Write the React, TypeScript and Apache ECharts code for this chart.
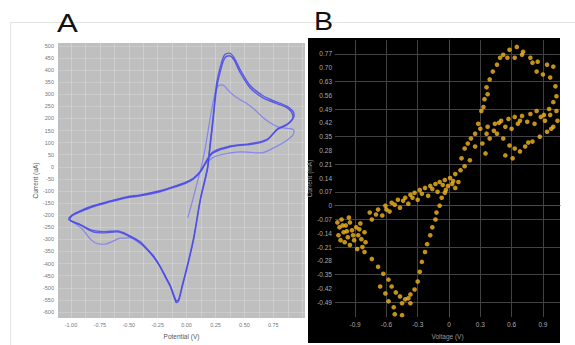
import React, { useEffect, useRef } from 'react';
import * as echarts from 'echarts';

// ---------- Panel A: cyclic voltammogram ----------
const potentialLabels = [-1, -0.75, -0.5, -0.25, 0, 0.25, 0.5, 0.75];
const potentialGridLines = [-1, -0.875, -0.75, -0.625, -0.5, -0.375, -0.25, -0.125, 0, 0.125, 0.25, 0.375, 0.5, 0.625, 0.75, 0.875, 1];
const currentLabelsA = [-600, -550, -500, -450, -400, -350, -300, -250, -200, -150, -100, -50, 0, 50, 100, 150, 200, 250, 300, 350, 400, 450, 500];

// first (lighter) scan, starting near 0 V
const cvFirstScan: [number, number][] = [
  [0.01, -211], [0.04, -160], [0.07, -105], [0.10, -50], [0.13, 5], [0.16, 75], [0.19, 160], [0.22, 245],
  [0.25, 310], [0.28, 337], [0.31, 339], [0.35, 322], [0.40, 298], [0.46, 278], [0.52, 262], [0.59, 236],
  [0.66, 204], [0.73, 180], [0.79, 165], [0.85, 160], [0.90, 158], [0.93, 150], [0.92, 132], [0.88, 114],
  [0.82, 95], [0.76, 80], [0.70, 66], [0.65, 58], [0.61, 58], [0.55, 60], [0.47, 62], [0.38, 58],
  [0.28, 48], [0.22, 36], [0.17, 15], [0.12, -18], [0.06, -46], [0.00, -63], [-0.10, -80], [-0.23, -100],
  [-0.40, -117], [-0.52, -126], [-0.66, -142], [-0.81, -162], [-0.92, -183], [-0.99, -200], [-1.01, -217],
  [-0.97, -232], [-0.90, -258], [-0.83, -300], [-0.77, -318], [-0.71, -320], [-0.64, -308], [-0.57, -295],
  [-0.49, -294], [-0.42, -312], [-0.34, -343], [-0.28, -376], [-0.23, -413], [-0.18, -459], [-0.14, -496],
  [-0.11, -536], [-0.09, -558],
];

const cvSecondScan: [number, number][] = [
  [-0.09, -562], [-0.07, -556], [-0.04, -500], [0.00, -426], [0.06, -302], [0.12, -136], [0.18, -12], [0.20, 70],
  [0.23, 194], [0.26, 326], [0.30, 409], [0.33, 450], [0.37, 459], [0.41, 442], [0.46, 393], [0.55, 326],
  [0.66, 285], [0.74, 269], [0.81, 256], [0.87, 244], [0.91, 224], [0.92, 205], [0.87, 174], [0.78, 153],
  [0.70, 112], [0.63, 99], [0.52, 91], [0.38, 83], [0.23, 58], [0.18, 29], [0.12, -21], [0.06, -50],
  [0.00, -66], [-0.10, -83], [-0.23, -103], [-0.40, -120], [-0.52, -128], [-0.66, -145], [-0.81, -165],
  [-0.92, -186], [-0.99, -202], [-1.01, -219], [-0.92, -240], [-0.81, -269], [-0.71, -273], [-0.60, -269],
  [-0.49, -289], [-0.40, -314], [-0.34, -343], [-0.28, -376], [-0.23, -413], [-0.18, -459], [-0.14, -496],
  [-0.11, -537], [-0.09, -562],
];

const cvThirdScan: [number, number][] = [
  [-0.09, -555], [-0.07, -550], [-0.04, -495], [0.00, -420], [0.06, -296], [0.12, -130], [0.18, -5], [0.20, 80],
  [0.23, 210], [0.26, 345], [0.30, 428], [0.33, 464], [0.37, 470], [0.41, 452], [0.46, 405], [0.55, 336],
  [0.66, 294], [0.74, 276], [0.81, 262], [0.87, 250], [0.92, 230], [0.93, 212], [0.88, 180], [0.79, 158],
  [0.71, 118], [0.63, 103], [0.52, 94], [0.38, 86], [0.23, 62], [0.18, 32], [0.12, -18], [0.06, -47],
  [0.00, -62], [-0.10, -80], [-0.23, -99], [-0.40, -116], [-0.52, -124], [-0.66, -141], [-0.81, -161],
  [-0.92, -182], [-0.99, -199], [-1.02, -216], [-0.93, -236], [-0.82, -262], [-0.71, -268], [-0.60, -265],
  [-0.49, -285], [-0.40, -310], [-0.34, -340], [-0.28, -372], [-0.23, -410], [-0.18, -455], [-0.14, -492],
  [-0.11, -530], [-0.09, -555],
];

// ---------- Panel B: I-V scatter ----------
const voltageLabels = [-0.9, -0.6, -0.3, 0, 0.3, 0.6, 0.9];
const currentLabelsB = [-0.49, -0.42, -0.35, -0.28, -0.21, -0.14, -0.07, 0, 0.07, 0.14, 0.21, 0.28, 0.35, 0.42, 0.49, 0.56, 0.63, 0.7, 0.77];
const currentGridB = [-0.49, -0.35, -0.21, -0.07, 0.07, 0.21, 0.35, 0.49, 0.63, 0.77];

const ivPoints: [number, number][] = [
  // left cluster
  [-1.07, -0.085], [-1.05, -0.11], [-1.03, -0.07], [-1.01, -0.135], [-0.99, -0.10], [-0.97, -0.16], [-0.95, -0.085],
  [-0.93, -0.125], [-0.91, -0.175], [-0.89, -0.11], [-0.87, -0.15], [-0.85, -0.09], [-1.00, -0.185], [-1.06, -0.15],
  [-0.83, -0.21], [-0.81, -0.135], [-1.04, -0.175], [-0.95, -0.20], [-0.88, -0.22], [-0.80, -0.185],
  [-1.02, -0.10], [-0.98, -0.13], [-0.92, -0.15], [-0.86, -0.12], [-0.84, -0.17], [-0.96, -0.06],
  // upper band, left half
  [-0.76, -0.035], [-0.68, -0.02], [-0.61, 0.0], [-0.55, 0.015], [-0.49, 0.03], [-0.42, 0.04], [-0.37, 0.055],
  [-0.33, 0.065], [-0.28, 0.08], [-0.23, 0.09], [-0.18, 0.10], [-0.13, 0.11], [-0.09, 0.12], [-0.04, 0.13],
  [0.01, 0.14], [0.06, 0.16], [0.11, 0.18], [0.15, 0.20],
  [-0.74, -0.07], [-0.64, -0.05], [-0.57, -0.03], [-0.47, -0.01], [-0.39, 0.01], [-0.30, 0.03], [-0.20, 0.05],
  [-0.11, 0.07], [-0.01, 0.10], [0.09, 0.12], [0.06, 0.09], [-0.03, 0.08], [0.03, 0.11],
  [-0.70, -0.045], [-0.60, -0.02], [-0.52, 0.005], [-0.44, 0.025], [-0.35, 0.04], [-0.26, 0.06], [-0.16, 0.085],
  [-0.06, 0.105], [0.04, 0.125],
  // lower-left loop
  [-0.81, -0.235], [-0.74, -0.27], [-0.68, -0.31], [-0.63, -0.345], [-0.58, -0.375], [-0.55, -0.41], [-0.51, -0.44],
  [-0.47, -0.46], [-0.42, -0.475], [-0.37, -0.45], [-0.33, -0.425], [-0.58, -0.485], [-0.53, -0.515], [-0.45, -0.495],
  [-0.39, -0.47], [-0.37, -0.495], [-0.52, -0.55], [-0.45, -0.555], [-0.66, -0.41], [-0.61, -0.445],
  [-0.30, -0.385], [-0.28, -0.335], [-0.26, -0.285], [-0.23, -0.235], [-0.21, -0.195], [-0.18, -0.15],
  [-0.16, -0.11], [-0.13, -0.07], [-0.12, -0.035], [-0.09, 0.0], [-0.07, 0.04], [-0.04, 0.065],
  // rising to the upper-right loop
  [0.12, 0.24], [0.15, 0.29], [0.18, 0.315], [0.21, 0.34], [0.25, 0.365], [0.28, 0.415], [0.31, 0.48], [0.33, 0.50],
  [0.34, 0.54], [0.37, 0.565], [0.36, 0.60], [0.39, 0.64], [0.42, 0.68], [0.46, 0.715], [0.49, 0.75],
  // top loop
  [0.52, 0.765], [0.56, 0.75], [0.58, 0.79], [0.63, 0.75], [0.65, 0.805], [0.70, 0.765], [0.71, 0.78],
  [0.78, 0.75], [0.80, 0.725], [0.85, 0.73], [0.84, 0.68], [0.90, 0.665], [0.94, 0.715], [0.97, 0.65],
  [1.00, 0.705], [1.02, 0.605], [1.03, 0.555], [1.00, 0.525], [0.96, 0.49], [1.03, 0.48], [0.91, 0.46],
  // right loop, upper band
  [0.30, 0.39], [0.37, 0.40], [0.44, 0.415], [0.50, 0.43], [0.57, 0.44], [0.63, 0.45], [0.70, 0.455],
  [0.78, 0.465], [0.84, 0.48],
  // right loop, lower band
  [0.25, 0.30], [0.32, 0.315], [0.39, 0.34], [0.46, 0.365], [0.52, 0.34], [0.58, 0.305], [0.63, 0.29],
  [0.68, 0.275], [0.73, 0.30], [0.80, 0.325], [0.87, 0.35], [0.94, 0.375], [1.00, 0.40], [1.04, 0.43],
  // right loop, middle
  [0.36, 0.365], [0.43, 0.38], [0.54, 0.40], [0.60, 0.39], [0.66, 0.415], [0.75, 0.425], [0.82, 0.415],
  [0.92, 0.43], [0.54, 0.255], [0.61, 0.24], [0.35, 0.265], [0.20, 0.23],
  [0.48, 0.42], [0.68, 0.43], [0.88, 0.45], [0.97, 0.46], [0.98, 0.39], [0.76, 0.32],
];

const fmt2 = (v: number) => v.toFixed(2);
const fmtB = (v: number) => (Math.abs(v) < 1e-9 ? '0' : String(Math.round(v * 100) / 100));
const fmtBY = (v: number) => (Math.abs(v) < 1e-9 ? '0' : (Math.round(v * 100) / 100).toFixed(2));

export default function App() {
  const ref = useRef<HTMLDivElement>(null);
  useEffect(() => {
    document.body.style.margin = '0';
    const chart = echarts.init(ref.current!, undefined, { renderer: 'svg' });
    const darkLine = { color: '#4b4be8', width: 1.4, opacity: 0.88 };
    const lightLine = { color: '#8080f0', width: 1.2, opacity: 0.9 };
    chart.setOption({
      animation: false,
      backgroundColor: '#ffffff',
      textStyle: { fontFamily: 'Liberation Sans, Arial, sans-serif' },
      graphic: [
        { type: 'line', z: -20, shape: { x1: 10, y1: 22.5, x2: 575, y2: 22.5 }, style: { stroke: '#e4e4e4', lineWidth: 1 } },
        { type: 'line', z: -20, shape: { x1: 10.5, y1: 22, x2: 10.5, y2: 345 }, style: { stroke: '#e4e4e4', lineWidth: 1 } },
        { type: 'rect', z: -10, shape: { x: 308, y: 38, width: 252, height: 305 }, style: { fill: '#000000' } },
        { type: 'text', z: 10, x: 57, y: 10, scaleX: 1.2, style: { text: 'A', font: '26px "Liberation Sans", Arial, sans-serif', fill: '#111111' } },
        { type: 'text', z: 10, x: 314, y: 8, scaleX: 1.1, style: { text: 'B', font: '26px "Liberation Sans", Arial, sans-serif', fill: '#111111' } },
      ],
      grid: [
        { left: 58, right: 270, top: 43, bottom: 27, show: true, backgroundColor: '#bfbfbf', borderWidth: 0 },
        { left: 335, right: 15, top: 40, bottom: 24, show: false },
      ],
      xAxis: [
        {
          gridIndex: 0, type: 'value', min: -1.112, max: 1.024,
          name: 'Potential (V)', nameLocation: 'middle', nameGap: 11,
          nameTextStyle: { fontSize: 6.5, color: '#555' },
          axisLine: { show: false },
          axisTick: { show: false, customValues: potentialGridLines },
          axisLabel: { customValues: potentialLabels, formatter: fmt2, fontSize: 5.5, color: '#777', margin: 4 },
          splitLine: { show: true, lineStyle: { color: 'rgba(255,255,255,0.22)', width: 1 } },
        },
        {
          gridIndex: 1, type: 'value', min: -1.093, max: 1.064,
          name: 'Voltage (V)', nameLocation: 'middle', nameGap: 15,
          nameTextStyle: { fontSize: 6.5, color: '#999' },
          axisLine: { show: true, lineStyle: { color: '#4a4a4a', width: 1 } },
          axisTick: { show: false, customValues: voltageLabels },
          axisLabel: { customValues: voltageLabels, formatter: fmtB, fontSize: 6.5, color: '#aaa', margin: 4 },
          splitLine: { show: true, lineStyle: { color: '#424242', width: 1 } },
        },
      ],
      yAxis: [
        {
          gridIndex: 0, type: 'value', min: -625, max: 512,
          name: 'Current (uA)', nameLocation: 'middle', nameGap: 19, nameRotate: 90,
          nameTextStyle: { fontSize: 6.5, color: '#555' },
          axisLine: { show: false },
          axisTick: { show: false, customValues: currentLabelsA },
          axisLabel: { customValues: currentLabelsA, fontSize: 5.5, color: '#777', margin: 4 },
          splitLine: { show: true, lineStyle: { color: 'rgba(255,255,255,0.18)', width: 1 } },
        },
        {
          gridIndex: 1, type: 'value', min: -0.565, max: 0.84,
          name: 'Current (mA)', nameLocation: 'middle', nameGap: 20, nameRotate: 90,
          nameTextStyle: { fontSize: 6.5, color: '#999' },
          axisLine: { show: true, lineStyle: { color: '#4a4a4a', width: 1 } },
          axisTick: { show: false, customValues: currentGridB },
          axisLabel: { customValues: currentLabelsB, formatter: fmtBY, fontSize: 6.5, color: '#aaa', margin: 3 },
          splitLine: { show: true, lineStyle: { color: '#424242', width: 1 } },
        },
      ],
      series: [
        { type: 'line', xAxisIndex: 0, yAxisIndex: 0, data: cvFirstScan, showSymbol: false, smooth: 0.3, lineStyle: lightLine },
        { type: 'line', xAxisIndex: 0, yAxisIndex: 0, data: cvSecondScan, showSymbol: false, smooth: 0.3, lineStyle: darkLine },
        { type: 'line', xAxisIndex: 0, yAxisIndex: 0, data: cvThirdScan, showSymbol: false, smooth: 0.3, lineStyle: darkLine },
        {
          type: 'scatter', xAxisIndex: 1, yAxisIndex: 1, data: ivPoints,
          symbol: 'circle', symbolSize: 4.6, itemStyle: { color: '#f4b61f' },
        },
      ],
    });
    return () => chart.dispose();
  }, []);
  return <div ref={ref} style={{ width: 575, height: 345 }} />;
}
